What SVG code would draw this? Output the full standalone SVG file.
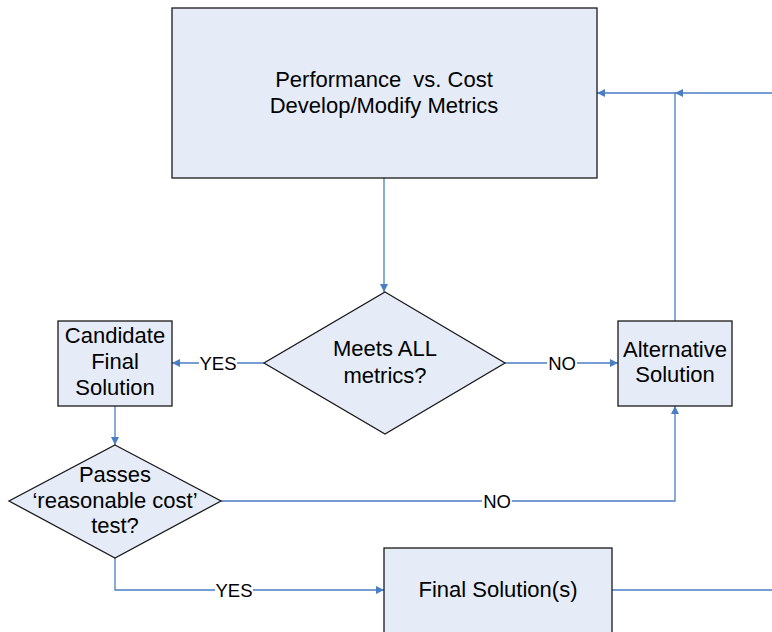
<svg xmlns="http://www.w3.org/2000/svg" width="772" height="632" viewBox="0 0 772 632">
  <style>
    .node { fill: #E6ECF7; stroke: #1a1a1a; stroke-width: 1.3; }
    .txt { font-family: "Liberation Sans", Arial, sans-serif; font-size: 22px; fill: #000; text-anchor: middle; white-space: pre; }
    .lbl { font-family: "Liberation Sans", Arial, sans-serif; font-size: 18.500px; fill: #000; text-anchor: middle; }
    .conn { fill: none; stroke: #4A7EC4; stroke-width: 1.3; }
    .bg { fill: #fff; }
  </style>
  <defs>
    <marker id="arrow" viewBox="0 0 10 10" refX="10" refY="5" markerWidth="8" markerHeight="8" markerUnits="userSpaceOnUse" orient="auto">
      <path d="M0,0 L10,5 L0,10 z" fill="#4A7EC4"/>
    </marker>
  </defs>
  <rect width="772" height="632" fill="#fff"/>

  <g id="connectors">
    <!-- metrics box down to first decision -->
    <path class="conn" d="M384,178 L384,292" marker-end="url(#arrow)"/>
    <!-- YES to candidate -->
    <path class="conn" d="M264,363 L172,363" marker-end="url(#arrow)"/>
    <!-- NO to alternative -->
    <path class="conn" d="M505,363 L618,363" marker-end="url(#arrow)"/>
    <!-- alternative back up to metrics -->
    <path class="conn" d="M675,321 L675,93 L597,93" marker-end="url(#arrow)"/>
    <!-- incoming feed from right -->
    <path class="conn" d="M772,93 L675,93" marker-end="url(#arrow)"/>
    <!-- candidate down to cost test -->
    <path class="conn" d="M115,406 L115,445" marker-end="url(#arrow)"/>
    <!-- cost test NO to alternative -->
    <path class="conn" d="M221,501 L675,501 L675,406" marker-end="url(#arrow)"/>
    <!-- cost test YES to final -->
    <path class="conn" d="M115,558 L115,590 L384,590" marker-end="url(#arrow)"/>
    <!-- final out to right -->
    <path class="conn" d="M612,590 L772,590"/>
    <!-- labels -->
    <rect class="bg" x="199" y="352" width="38" height="22"/>
    <text class="lbl" x="218" y="369.500">YES</text>
    <rect class="bg" x="547" y="352" width="30" height="22"/>
    <text class="lbl" x="562" y="369.500">NO</text>
    <rect class="bg" x="482" y="490" width="30" height="22"/>
    <text class="lbl" x="497" y="507.500">NO</text>
    <rect class="bg" x="215" y="579" width="38" height="22"/>
    <text class="lbl" x="234" y="596.500">YES</text>
  </g>

  <g id="metrics">
    <rect class="node" x="172" y="8" width="425" height="170"/>
    <text class="txt" x="384" y="87" xml:space="preserve">Performance  vs. Cost</text>
    <text class="txt" x="384" y="113">Develop/Modify Metrics</text>
  </g>

  <g id="meets-all">
    <polygon class="node" points="385,292 505,363 385,434 264,363"/>
    <text class="txt" x="385" y="356">Meets ALL</text>
    <text class="txt" x="385" y="383">metrics?</text>
  </g>

  <g id="candidate">
    <rect class="node" x="58" y="321" width="114" height="85"/>
    <text class="txt" x="115" y="343">Candidate</text>
    <text class="txt" x="115" y="369">Final</text>
    <text class="txt" x="115" y="395">Solution</text>
  </g>

  <g id="alternative">
    <rect class="node" x="618" y="321" width="114" height="85"/>
    <text class="txt" x="675" y="357">Alternative</text>
    <text class="txt" x="675" y="382">Solution</text>
  </g>

  <g id="cost-test">
    <polygon class="node" points="115,445 221,501 115,558 9,501"/>
    <text class="txt" x="115" y="482">Passes</text>
    <text class="txt" x="115" y="508">‘reasonable cost’</text>
    <text class="txt" x="115" y="533">test?</text>
  </g>

  <g id="final">
    <rect class="node" x="384" y="548" width="228" height="100"/>
    <text class="txt" x="498" y="597">Final Solution(s)</text>
  </g>
</svg>
